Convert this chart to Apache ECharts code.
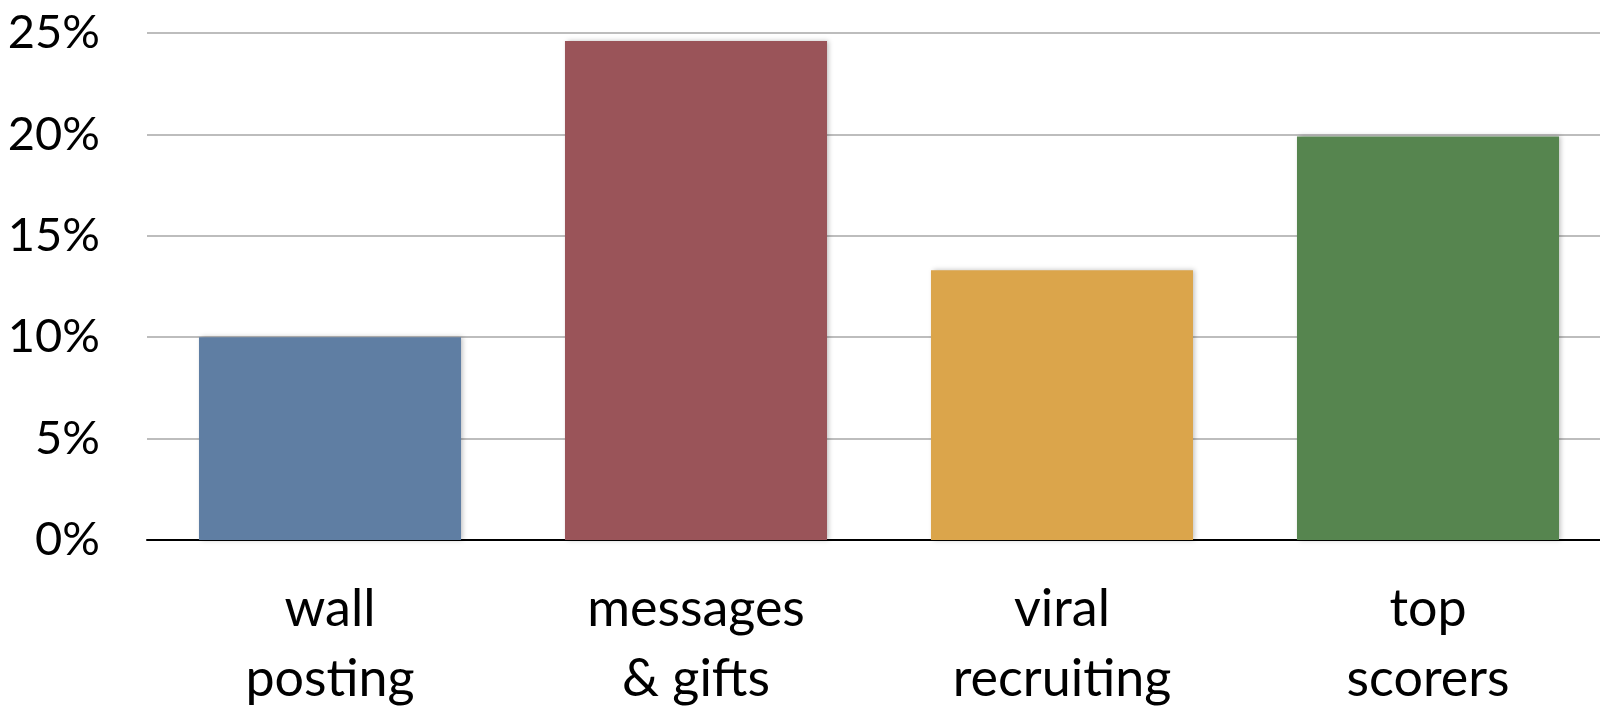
<!DOCTYPE html>
<html>
<head>
<meta charset="utf-8">
<script src="https://cdn.jsdelivr.net/npm/echarts@6/dist/echarts.min.js"></script>
<style>
  html, body { margin: 0; padding: 0; background: #fff; }
  #main { width: 1600px; height: 708px; }
</style>
</head>
<body>
<div id="main"></div>
<script>
var chartDom = document.getElementById("main");
var myChart = echarts.init(chartDom);

// data
var categories = ["wall\nposting", "messages\n& gifts", "viral\nrecruiting", "top\nscorers"];
var values = [10.0, 24.6, 13.3, 19.9];
var barColors = ["#5f7ea3", "#9a5459", "#dba54b", "#56854f"];
var yTicks = { min: 0, max: 25, interval: 5 };

var fontFamily = "Lato, 'Noto Sans', sans-serif";

var option = {
  animation: false,
  grid: {
    left: 147,
    right: -11,
    top: 33,
    bottom: 168,
    outerBoundsMode: "none",
  },
  xAxis: {
    type: "category",
    data: categories,
    axisTick: { show: false },
    axisLine: { lineStyle: { color: "#000", width: 2 } },
    axisLabel: {
      color: "#000",
      fontFamily: fontFamily,
      fontSize: 52,
      lineHeight: 70,
      margin: 34,
    },
  },
  yAxis: {
    type: "value",
    min: yTicks.min,
    max: yTicks.max,
    interval: yTicks.interval,
    axisLine: { show: false },
    axisTick: { show: false },
    splitLine: { lineStyle: { color: "#bdbdbd", width: 2 } },
    axisLabel: {
      color: "#000",
      fontFamily: fontFamily,
      fontSize: 47,
      margin: 47,
      formatter: "{value}%",
    },
  },
  series: [
    {
      type: "bar",
      barCategoryGap: "28.4%",
      data: values.map(function (v, i) {
        return { value: v, itemStyle: { color: barColors[i] } };
      }),
      itemStyle: {
        shadowBlur: 5,
        shadowColor: "rgba(0,0,0,0.25)",
        shadowOffsetX: 2,
        shadowOffsetY: 0,
      },
    },
  ],
};

option && myChart.setOption(option);
</script>
</body>
</html>
